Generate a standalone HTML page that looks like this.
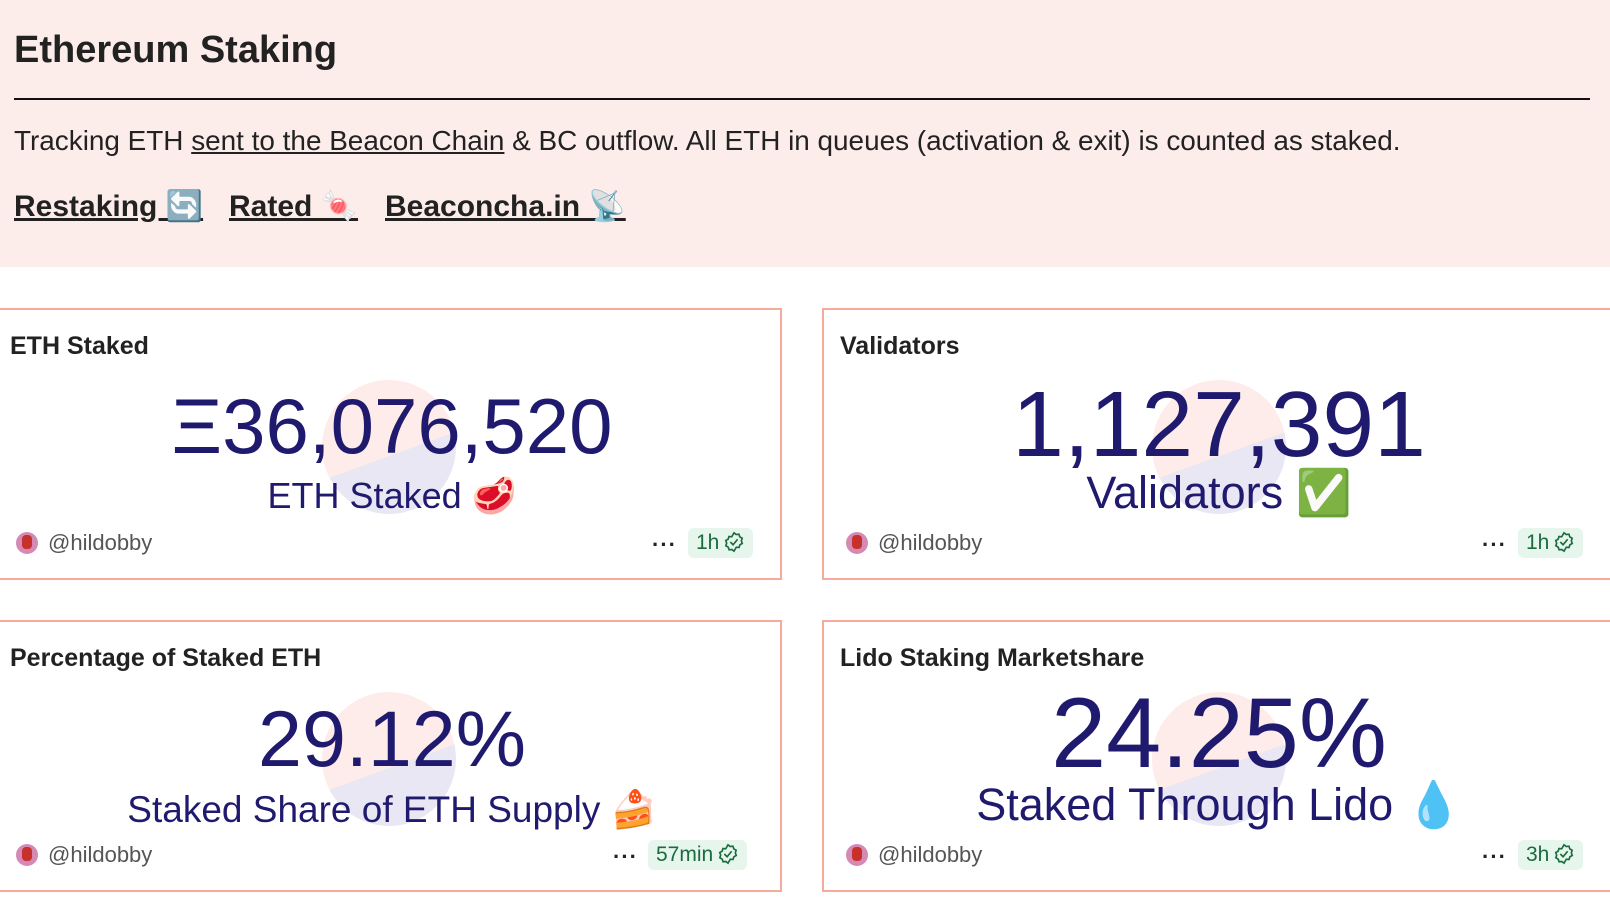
<!DOCTYPE html>
<html><head><meta charset="utf-8"><style>
*{margin:0;padding:0;box-sizing:border-box}
body{width:1610px;height:914px;background:#fff;font-family:"Liberation Sans","Noto Sans CJK JP",sans-serif;position:relative;overflow:hidden;color:#1a1a1a}
.hdr{position:absolute;left:0;top:0;width:1610px;height:267px;background:#fdedea}
.abs{position:absolute;white-space:nowrap}
.card{position:absolute;border:2px solid #f6aa9a;background:#fff;overflow:hidden}
.ctr{position:absolute;text-align:center;color:#1f1a6e;white-space:nowrap}
.pie{position:absolute;width:134px;height:134px;border-radius:50%;background:linear-gradient(160deg,#fdecea 0%,#fdecea 55%,#e9e7f3 55%,#e9e7f3 100%)}
.ft{position:absolute;font-size:22px;color:#555}
.av{position:absolute;width:22px;height:22px;border-radius:50%;background:#d58ab6}
.av::after{content:"";position:absolute;left:6px;top:3px;width:10px;height:14px;background:#c8302c;border-radius:4px}
.dots{position:absolute;font-size:22px;font-weight:bold;color:#222;letter-spacing:1px}
.badge{position:absolute;height:30px;background:#e6f6ec;border-radius:6px;color:#1b6b3e;font-size:21px;line-height:30px;padding:0 8px}
.badge svg{vertical-align:-4px;margin-left:4px}
</style></head><body>
<div class="hdr"></div>
<div class="abs" style="left:14px;top:29px;font-size:38px;font-weight:bold;color:#222">Ethereum Staking</div>
<div class="abs" style="left:14px;top:98px;width:1576px;height:2px;background:#111"></div>
<div class="abs" style="left:14px;top:125px;font-size:27.9px;color:#222">Tracking ETH <u>sent to the Beacon Chain</u> &amp; BC outflow. All ETH in queues (activation &amp; exit) is counted as staked.</div>
<div class="abs" style="left:14px;top:189px;font-size:30px;font-weight:bold;text-decoration:underline;color:#222">Restaking 🔄</div>
<div class="abs" style="left:229px;top:189px;font-size:30px;font-weight:bold;text-decoration:underline;color:#222">Rated 🍬</div>
<div class="abs" style="left:385px;top:189px;font-size:30px;font-weight:bold;text-decoration:underline;color:#222">Beaconcha.in 📡</div>

<!-- card1 -->
<div class="card" style="left:-2px;top:308px;width:784px;height:272px">
 <div class="pie" style="left:322px;top:70px"></div>
 <div class="abs" style="left:10px;top:22px;font-size:25px;font-weight:bold;color:#222">ETH Staked</div>
 <div class="ctr" style="left:0;width:784px;top:71px;font-size:78px;line-height:90px">Ξ36,076,520</div>
 <div class="ctr" style="left:0;width:784px;top:164px;font-size:36px;line-height:44px">ETH Staked 🥩</div>
 <div class="av" style="left:16px;top:222px"></div>
 <div class="ft" style="left:48px;top:220px">@hildobby</div>
 <div class="dots" style="left:652px;top:222px">···</div>
 <div class="badge" style="left:688px;top:218px">1h<svg width="22" height="22" viewBox="0 0 24 24"><path d="M12 2l2.4 1.8 3-.3.9 2.9 2.6 1.5-.9 2.9 1 2.8-2.6 1.5-.9 2.9-3-.3L12 22l-2.4-1.8-3 .3-.9-2.9-2.6-1.5.9-2.9-1-2.8 2.6-1.5.9-2.9 3 .3z" fill="none" stroke="#1b6b3e" stroke-width="1.8"/><path d="M8 12l3 3 5-6" fill="none" stroke="#1b6b3e" stroke-width="1.8"/></svg></div>
</div>

<!-- card2 -->
<div class="card" style="left:822px;top:308px;width:800px;height:272px">
 <div class="pie" style="left:328px;top:70px"></div>
 <div class="abs" style="left:16px;top:22px;font-size:25px;font-weight:bold;color:#222">Validators</div>
 <div class="ctr" style="left:0;width:790px;top:62px;font-size:93px;line-height:104px">1,127,391</div>
 <div class="ctr" style="left:0;width:790px;top:156px;font-size:45px;line-height:54px">Validators ✅</div>
 <div class="av" style="left:22px;top:222px"></div>
 <div class="ft" style="left:54px;top:220px">@hildobby</div>
 <div class="dots" style="left:658px;top:222px">···</div>
 <div class="badge" style="left:694px;top:218px">1h<svg width="22" height="22" viewBox="0 0 24 24"><path d="M12 2l2.4 1.8 3-.3.9 2.9 2.6 1.5-.9 2.9 1 2.8-2.6 1.5-.9 2.9-3-.3L12 22l-2.4-1.8-3 .3-.9-2.9-2.6-1.5.9-2.9-1-2.8 2.6-1.5.9-2.9 3 .3z" fill="none" stroke="#1b6b3e" stroke-width="1.8"/><path d="M8 12l3 3 5-6" fill="none" stroke="#1b6b3e" stroke-width="1.8"/></svg></div>
</div>

<!-- card3 -->
<div class="card" style="left:-2px;top:620px;width:784px;height:272px">
 <div class="pie" style="left:322px;top:70px"></div>
 <div class="abs" style="left:10px;top:22px;font-size:25px;font-weight:bold;color:#222">Percentage of Staked ETH</div>
 <div class="ctr" style="left:0;width:784px;top:72px;font-size:79px;line-height:90px">29.12%</div>
 <div class="ctr" style="left:0;width:784px;top:165px;font-size:37px;line-height:46px">Staked Share of ETH Supply 🍰</div>
 <div class="av" style="left:16px;top:222px"></div>
 <div class="ft" style="left:48px;top:220px">@hildobby</div>
 <div class="dots" style="left:613px;top:222px">···</div>
 <div class="badge" style="left:648px;top:218px">57min<svg width="22" height="22" viewBox="0 0 24 24"><path d="M12 2l2.4 1.8 3-.3.9 2.9 2.6 1.5-.9 2.9 1 2.8-2.6 1.5-.9 2.9-3-.3L12 22l-2.4-1.8-3 .3-.9-2.9-2.6-1.5.9-2.9-1-2.8 2.6-1.5.9-2.9 3 .3z" fill="none" stroke="#1b6b3e" stroke-width="1.8"/><path d="M8 12l3 3 5-6" fill="none" stroke="#1b6b3e" stroke-width="1.8"/></svg></div>
</div>

<!-- card4 -->
<div class="card" style="left:822px;top:620px;width:800px;height:272px">
 <div class="pie" style="left:328px;top:70px"></div>
 <div class="abs" style="left:16px;top:22px;font-size:25px;font-weight:bold;color:#222">Lido Staking Marketshare</div>
 <div class="ctr" style="left:0;width:790px;top:57px;font-size:99px;line-height:108px">24.25%</div>
 <div class="ctr" style="left:0;width:790px;top:156px;font-size:45px;line-height:54px">Staked Through Lido 💧</div>
 <div class="av" style="left:22px;top:222px"></div>
 <div class="ft" style="left:54px;top:220px">@hildobby</div>
 <div class="dots" style="left:658px;top:222px">···</div>
 <div class="badge" style="left:694px;top:218px">3h<svg width="22" height="22" viewBox="0 0 24 24"><path d="M12 2l2.4 1.8 3-.3.9 2.9 2.6 1.5-.9 2.9 1 2.8-2.6 1.5-.9 2.9-3-.3L12 22l-2.4-1.8-3 .3-.9-2.9-2.6-1.5.9-2.9-1-2.8 2.6-1.5.9-2.9 3 .3z" fill="none" stroke="#1b6b3e" stroke-width="1.8"/><path d="M8 12l3 3 5-6" fill="none" stroke="#1b6b3e" stroke-width="1.8"/></svg></div>
</div>
</body></html>
